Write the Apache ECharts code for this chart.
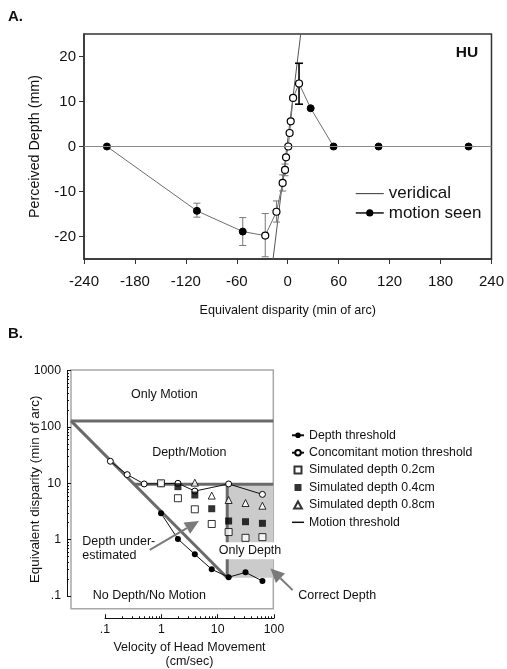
<!DOCTYPE html>
<html><head><meta charset="utf-8">
<script src="https://cdn.jsdelivr.net/npm/echarts@6/dist/echarts.min.js"></script>
<style>html,body{margin:0;padding:0;background:#fff}#c{width:507px;height:669px}</style>
</head><body><div id="c"></div>
<script>
// ---------- Panel A data ----------
const dispA   = [-213,-107,-53,-26.5,-13.3,-6,-3.2,-2,0.6,2.2,3.5,6.3,13.3,27,54,107,213];
const depthA  = [0,-14.3,-18.9,-19.8,-14.5,-8.1,-5.2,-2.4,0,3.0,5.6,10.8,14.0,8.5,0,0,0];
const seenA   = [1,1,1,0,0,0,0,0,0,0,0,0,0,1,1,1,1];
const errX    = [-107,-53,-26.5,-13.3,-6,-3.2,13.3];
const errLow  = [-15.7,-22,-24.5,-16.8,-9.9,-6.5,9.4];
const errHigh = [-12.6,-15.8,-14.9,-12.1,-6.3,-3.9,18.5];
const errDark = [0,0,0,0,0,0,1];
const veridicalX = [-17.3,15.3];
const veridicalY = [-25,25];
const yTicksA = [-20,-10,0,10,20];

// ---------- Panel B data ----------
const depthThrV = [1,2,4,8,16,32,64];
const depthThr  = [2.86,1.0,0.535,0.29,0.21,0.256,0.18];
const concV     = [0.125,0.25,0.5,1,2,4,16,64];
const conc      = [24,13.9,9.5,9.6,9.75,7.1,9.5,6.2];
const sim02V    = [1,2,4,8,16,32,64];
const sim02     = [9.75,5.3,3.37,1.85,1.33,1.05,1.08];
const sim04V    = [2,4,8,16,32,64];
const sim04     = [8.5,6.05,3.45,2.09,2.03,1.9];
const sim08V    = [4,8,16,32,64];
const sim08     = [10,5.9,4.93,4.36,3.9];
// region boundaries (motion threshold lines)
const upperBoundX = [0.0249,100];   const upperBoundY = [125,125];
const diagBoundX  = [0.0249,15.1];  const diagBoundY  = [125,0.205];
const lowerBoundX = [0.33,100];     const lowerBoundY = [9.4,9.4];
const edgeBoundX  = [15.1,15.1];    const edgeBoundY  = [9.4,0.205];
const onlyDepthBox = [[15.1,9.4],[100,0.205]];
const arrowsB = [[0.63,0.64,4.73,2.09],[221,0.124,88.8,0.30]];
const xTicksB = [0.1,1,10,100];
const yTicksB = [0.1,1,10,100,1000];
const xTickLabelsB = ['.1','1','10','100'];
const yTickLabelsB = ['.1','1','10','100','1000'];
const minorMult = [2,3,4,5,6,7,8,9];
const minorTicks = (decades) => [].concat(...decades.slice(0,-1).map(d => minorMult.map(m => +(d*m).toPrecision(3))));

const FONT = '"Liberation Sans", Arial, Helvetica, sans-serif';
const zip = (a,b) => a.map((v,i)=>[v,b[i]]);

const chart = echarts.init(document.getElementById('c'), null, {renderer:'canvas'});

const lineA = dispA.map((x,i)=>({
  value:[x,depthA[i]],
  itemStyle: seenA[i] ? {color:'#000',borderColor:'#000'} : {color:'#fff',borderColor:'#000',borderWidth:1.2}
}));

function errRender(params, api){
  const x=api.value(0), lo=api.value(1), hi=api.value(2), dark=api.value(3);
  const p1=api.coord([x,lo]), p2=api.coord([x,hi]);
  const col = dark ? '#000' : '#777';
  const lw = dark ? 1.6 : 1;
  const w = dark ? 4 : 3.5;
  const st = {stroke:col, lineWidth:lw};
  return {type:'group', children:[
    {type:'line', shape:{x1:p1[0],y1:p1[1],x2:p2[0],y2:p2[1]}, style:st},
    {type:'line', shape:{x1:p1[0]-w,y1:p1[1],x2:p1[0]+w,y2:p1[1]}, style:st},
    {type:'line', shape:{x1:p2[0]-w,y1:p2[1],x2:p2[0]+w,y2:p2[1]}, style:st}
  ]};
}

function arrowRender(params, api){
  const p1=api.coord([api.value(0),api.value(1)]), p2=api.coord([api.value(2),api.value(3)]);
  const dx=p2[0]-p1[0], dy=p2[1]-p1[1], L=Math.sqrt(dx*dx+dy*dy);
  const ux=dx/L, uy=dy/L, hl=14, hw=6.5;
  const bx=p2[0]-ux*hl, by=p2[1]-uy*hl;
  return {type:'group', children:[
    {type:'line', shape:{x1:p1[0],y1:p1[1],x2:bx,y2:by}, style:{stroke:'#7a7a7a',lineWidth:2}},
    {type:'polygon', shape:{points:[[p2[0],p2[1]],[bx-uy*hw,by+ux*hw],[bx+uy*hw,by-ux*hw]]}, style:{fill:'#7a7a7a'}}
  ]};
}

const boundStyle = {color:'#6a6a6a', width:3};
const bSeries = (x,y) => ({
  name:'Motion threshold', type:'line', xAxisIndex:1, yAxisIndex:1,
  data: zip(x,y), showSymbol:false, symbol:'none', lineStyle:boundStyle,
  itemStyle:{color:'#000'}, clip:false, silent:true, z:3
});

const txt = (t,x,y,align,size,bold,bg) => ({
  type:'text', x:x, y:y, silent:true, z:100,
  style:Object.assign({text:t, fill:'#111', font:(bold?'bold ':'')+size+'px '+FONT, align:align, verticalAlign:'middle'},
    bg ? {backgroundColor:'#fff', padding:[2,4,2,4]} : {})
});

const option = {
  animation:false,
  backgroundColor:'#fff',
  textStyle:{fontFamily:FONT},
  grid:[
    {left:84, top:34, width:408, height:225, show:true, borderColor:'#333', borderWidth:1.5},
    {left:71, top:370, width:202.3, height:238.7, show:true, borderColor:'#a8a8a8', borderWidth:1.5},
    {left:67, top:370.7, width:1, height:225.3},
    {left:105, top:618, width:169, height:1}
  ],
  xAxis:[
    {gridIndex:0, type:'value', min:-240, max:240, interval:60,
     axisLine:{onZero:false, lineStyle:{color:'#333', width:1.5}},
     axisTick:{show:true, length:5, lineStyle:{color:'#333'}},
     axisLabel:{color:'#111', fontSize:15, margin:15},
     splitLine:{show:false},
     name:'Equivalent disparity (min of arc)', nameLocation:'middle', nameGap:45,
     nameTextStyle:{fontSize:12.6, color:'#111'}},
    {gridIndex:1, type:'log', min:0.0249, max:100, show:false},
    {gridIndex:2, type:'value', show:false, min:0, max:1},
    {gridIndex:3, type:'log', min:0.1, max:100, position:'bottom',
     axisLine:{lineStyle:{color:'#111', width:1}},
     axisTick:{show:true, inside:true, length:4, customValues:xTicksB, lineStyle:{color:'#111'}},
     axisLabel:{color:'#111', fontSize:12.3, margin:5, customValues:xTicksB,
       formatter:(v)=>xTickLabelsB[xTicksB.findIndex(t=>Math.abs(Math.log10(t)-Math.log10(v))<0.01)]},
     splitLine:{show:false},
     name:'Velocity of Head Movement\n(cm/sec)', nameLocation:'middle', nameGap:22,
     nameTextStyle:{fontSize:12.5, color:'#111', lineHeight:14, verticalAlign:'top'}},
    {gridIndex:3, type:'log', min:0.1, max:100, position:'bottom', offset:0,
     axisLine:{show:false},
     axisTick:{show:true, inside:true, length:2, customValues:minorTicks(xTicksB), lineStyle:{color:'#111'}},
     axisLabel:{show:false}, splitLine:{show:false}}
  ],
  yAxis:[
    {gridIndex:0, type:'value', min:-25, max:25,
     axisLine:{onZero:false, lineStyle:{color:'#333', width:1.5}},
     axisTick:{show:true, length:5, customValues:yTicksA, lineStyle:{color:'#333'}},
     axisLabel:{color:'#111', fontSize:15, margin:8, customValues:yTicksA},
     splitLine:{show:false},
     name:'Perceived Depth (mm)', nameLocation:'middle', nameGap:42,
     nameTextStyle:{fontSize:14.3, color:'#111'}},
    {gridIndex:1, type:'log', min:0.058, max:1000,
     axisLine:{show:false}, axisTick:{show:false}, axisLabel:{show:false}, splitLine:{show:false},
     name:'Equivalent disparity (min of arc)', nameLocation:'middle', nameGap:29,
     nameTextStyle:{fontSize:13.4, color:'#111'}},
    {gridIndex:2, type:'log', min:0.1, max:1000, position:'left',
     axisLine:{lineStyle:{color:'#111', width:1}},
     axisTick:{show:true, inside:true, length:4, customValues:yTicksB, lineStyle:{color:'#111'}},
     axisLabel:{color:'#111', fontSize:12.3, margin:6, customValues:yTicksB,
       formatter:(v)=>yTickLabelsB[yTicksB.findIndex(t=>Math.abs(Math.log10(t)-Math.log10(v))<0.01)]},
     splitLine:{show:false}},
    {gridIndex:3, type:'value', show:false, min:0, max:1},
    {gridIndex:2, type:'log', min:0.1, max:1000, position:'left', offset:0,
     axisLine:{show:false},
     axisTick:{show:true, inside:true, length:2, customValues:minorTicks(yTicksB), lineStyle:{color:'#111'}},
     axisLabel:{show:false}, splitLine:{show:false}}
  ],
  legend:[
    {left:355, top:184, orient:'vertical', padding:0, itemWidth:28, itemHeight:9, itemGap:0,
     textStyle:{fontSize:17, color:'#111', lineHeight:19.3}, selectedMode:false,
     data:[{name:'veridical', lineStyle:{color:'#333', width:1}, itemStyle:{opacity:0}},
           {name:'motion seen', lineStyle:{color:'#111', width:1.5}, itemStyle:{color:'#000'}}]},
    {left:291, top:428.3, orient:'vertical', padding:0, itemWidth:12, itemHeight:7, itemGap:3.4,
     textStyle:{fontSize:12.3, color:'#111', lineHeight:14}, selectedMode:false,
     data:[{name:'Depth threshold'},{name:'Concomitant motion threshold'},
           {name:'Simulated depth 0.2cm', icon:'path://M0,0H10V10H0Z'},
           {name:'Simulated depth 0.4cm', icon:'path://M0,0H10V10H0Z'},
           {name:'Simulated depth 0.8cm', icon:'path://M5,0L10,9L0,9Z'},
           {name:'Motion threshold', lineStyle:{color:'#111', width:1.5}, itemStyle:{opacity:0}}]}
  ],
  graphic:[
    txt('A.',8,17,'left',15,true),
    txt('B.',8,334,'left',15,true),
    txt('HU',467,53,'center',15.5,true),
    txt('Only Motion',164.3,394.7,'center',12.5),
    txt('Depth/Motion',189.3,452.7,'center',12.5),
    txt('Depth under-',82.3,541.7,'left',12.5),
    txt('estimated',82.3,556,'left',12.5),
    txt('Only Depth',250,550.7,'center',12.5,false,true),
    txt('No Depth/No Motion',149.3,595.3,'center',12.5),
    txt('Correct Depth',298.3,595.3,'left',12.5)
  ],
  series:[
    // Panel A
    {name:'zero', type:'line', xAxisIndex:0, yAxisIndex:0, data:[], silent:true,
     markLine:{silent:true, symbol:'none', label:{show:false},
       lineStyle:{color:'#8a8a8a', width:1, type:'solid'}, data:[{yAxis:0}]}},
    {name:'veridical', type:'line', xAxisIndex:0, yAxisIndex:0, data:zip(veridicalX,veridicalY),
     showSymbol:false, symbol:'none', lineStyle:{color:'#555', width:1}, itemStyle:{color:'#333'}, z:2},
    {name:'errA', type:'custom', xAxisIndex:0, yAxisIndex:0, renderItem:errRender,
     data: errX.map((x,i)=>[x,errLow[i],errHigh[i],errDark[i]]), z:3, silent:true},
    {name:'motion seen', type:'line', xAxisIndex:0, yAxisIndex:0, data:lineA,
     symbol:'circle', symbolSize:7, showSymbol:true,
     lineStyle:{color:'#6e6e6e', width:1}, itemStyle:{color:'#000', borderColor:'#000'}, z:4},
    // Panel B
    {name:'region', type:'line', xAxisIndex:1, yAxisIndex:1, data:[], silent:true,
     markArea:{silent:true, itemStyle:{color:'#cbcbcb'},
       data:[[{coord:onlyDepthBox[0]},{coord:onlyDepthBox[1]}]]}},
    bSeries(upperBoundX, upperBoundY),
    bSeries(diagBoundX, diagBoundY),
    bSeries(lowerBoundX, lowerBoundY),
    bSeries(edgeBoundX, edgeBoundY),
    {name:'Depth threshold', type:'line', xAxisIndex:1, yAxisIndex:1, data:zip(depthThrV,depthThr),
     symbol:'circle', symbolSize:6, lineStyle:{color:'#111', width:1}, itemStyle:{color:'#000'}, z:5},
    {name:'Concomitant motion threshold', type:'line', xAxisIndex:1, yAxisIndex:1, data:zip(concV,conc),
     symbol:'circle', symbolSize:6, lineStyle:{color:'#111', width:1},
     itemStyle:{color:'#fff', borderColor:'#000', borderWidth:1}, z:5},
    {name:'Simulated depth 0.2cm', type:'scatter', xAxisIndex:1, yAxisIndex:1, data:zip(sim02V,sim02),
     symbol:'rect', symbolSize:7, itemStyle:{color:'#fff', borderColor:'#000', borderWidth:1}, z:6},
    {name:'Simulated depth 0.4cm', type:'scatter', xAxisIndex:1, yAxisIndex:1, data:zip(sim04V,sim04),
     symbol:'rect', symbolSize:7, itemStyle:{color:'#000'}, z:6},
    {name:'Simulated depth 0.8cm', type:'scatter', xAxisIndex:1, yAxisIndex:1, data:zip(sim08V,sim08),
     symbol:'triangle', symbolSize:7, itemStyle:{color:'#fff', borderColor:'#000', borderWidth:1}, z:6},
    {name:'arrows', type:'custom', xAxisIndex:1, yAxisIndex:1, renderItem:arrowRender,
     data:arrowsB, clip:false, silent:true, z:7}
  ]
};
chart.setOption(option);
</script>
</body></html>
